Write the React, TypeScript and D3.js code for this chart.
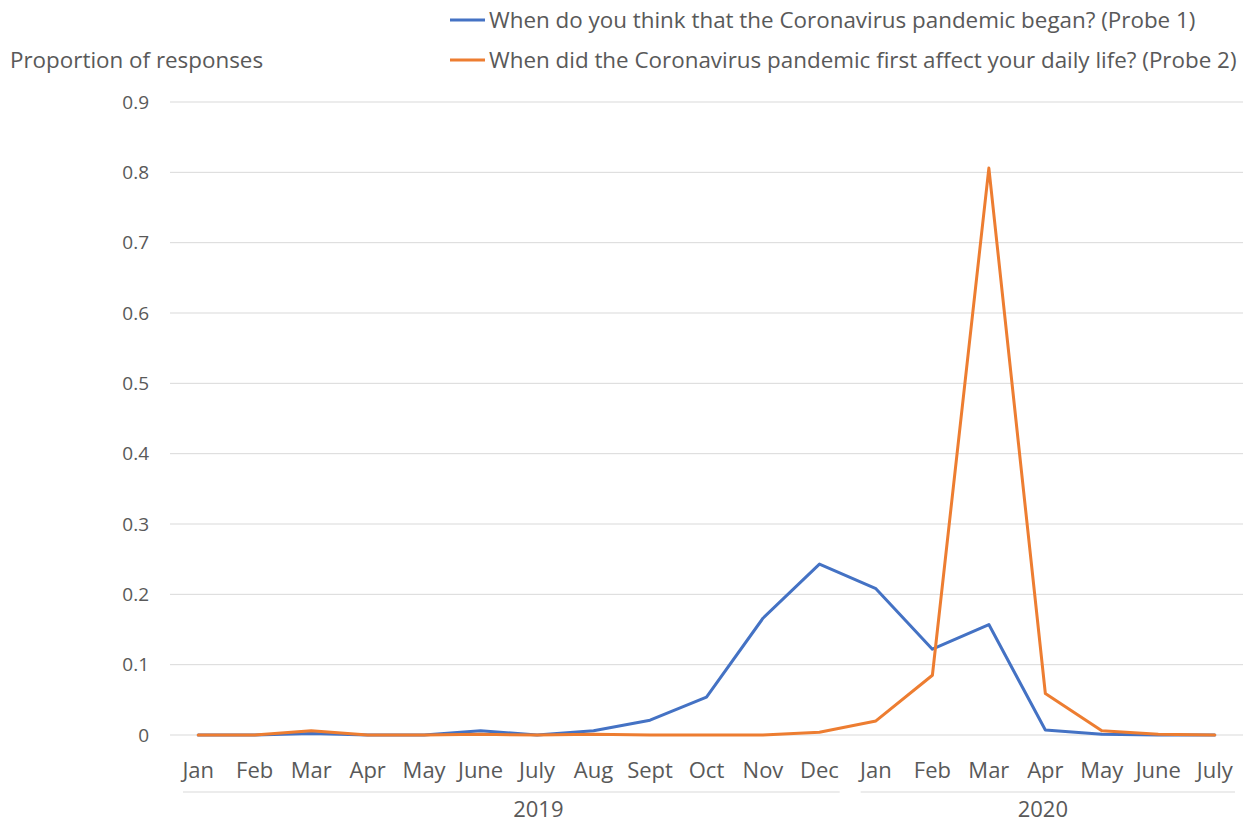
import * as d3 from 'd3';

const months = ['Jan', 'Feb', 'Mar', 'Apr', 'May', 'June', 'July', 'Aug', 'Sept', 'Oct', 'Nov', 'Dec',
  'Jan', 'Feb', 'Mar', 'Apr', 'May', 'June', 'July'];
const years = [
  { label: '2019', from: 0, to: 11 },
  { label: '2020', from: 12, to: 18 },
];
const probe1 = [0, 0, 0.002, 0, 0, 0.006, 0, 0.006, 0.021, 0.054, 0.166, 0.243,
  0.208, 0.122, 0.157, 0.007, 0.001, 0, 0];
const probe2 = [0, 0, 0.006, 0, 0, 0.001, 0, 0.001, 0, 0, 0, 0.004,
  0.02, 0.085, 0.806, 0.059, 0.006, 0.001, 0];
const yTicks = [0, 0.1, 0.2, 0.3, 0.4, 0.5, 0.6, 0.7, 0.8, 0.9];
const seriesNames = [
  'When do you think that the Coronavirus pandemic began? (Probe 1)',
  'When did the Coronavirus pandemic first affect your daily life? (Probe 2)',
];
const COLORS = ['#4472c4', '#ed7d31'];

const W = 1256;
const H = 823;
const FONT = '"Open Sans", sans-serif';
const TEXT = '#595959';
// year label nudges, as Excel places them
const YEAR_DX = [27, -5];

export default function App() {
  const x = d3.scaleBand<number>()
    .domain(d3.range(months.length))
    .range([170, 1243]);
  const cx = (i: number) => (x(i) ?? 0) + x.bandwidth() / 2;
  const y = d3.scaleLinear().domain([0, 0.9]).range([735, 102]);

  const line = d3.line<number>()
    .x((_, i) => cx(i))
    .y((d) => y(d));

  const series = [probe1, probe2];

  return (
    <svg width={W} height={H} style={{ position: 'absolute', left: 0, top: 0, background: '#fff' }}
      fontFamily={FONT}>
      {/* grid + y ticks */}
      {yTicks.map((t) => (
        <g key={t}>
          <line x1={170} x2={1243} y1={y(t)} y2={y(t)} stroke="#d9d9d9" strokeWidth={1} />
          <text x={149} y={y(t)} dy="0.35em" textAnchor="end" fontSize={19} fill={TEXT}>
            {t === 0 ? '0' : d3.format('.1f')(t)}
          </text>
        </g>
      ))}

      {/* month labels */}
      {months.map((m, i) => (
        <text key={i} x={cx(i)} y={778} textAnchor="middle" fontSize={22} fill={TEXT}>{m}</text>
      ))}

      {/* year groups */}
      {years.map((g, k) => {
        const x0 = (x(g.from) ?? 0) + 13;
        const x1 = (x(g.to) ?? 0) + x.bandwidth() - 8;
        return (
          <g key={g.label}>
            <line x1={x0} x2={x1} y1={792} y2={792} stroke="#d9d9d9" strokeWidth={1} />
            <text x={(x0 + x1) / 2 + YEAR_DX[k]} y={817} textAnchor="middle" fontSize={22} fill={TEXT}>{g.label}</text>
          </g>
        );
      })}

      {/* lines */}
      {series.map((s, k) => (
        <path key={k} d={line(s) ?? ''} fill="none" stroke={COLORS[k]} strokeWidth={3}
          strokeLinejoin="round" strokeLinecap="round" />
      ))}

      {/* axis title */}
      <text x={10} y={68} fontSize={22.4} fill={TEXT}>Proportion of responses</text>

      {/* legend */}
      {seriesNames.map((name, k) => (
        <g key={k} transform={`translate(450,${20 + k * 40})`}>
          <line x1={0} x2={35} y1={0} y2={0} stroke={COLORS[k]} strokeWidth={3} />
          <text x={39} y={0} dy="0.35em" fontSize={22.4} fill={TEXT}>{name}</text>
        </g>
      ))}
    </svg>
  );
}
